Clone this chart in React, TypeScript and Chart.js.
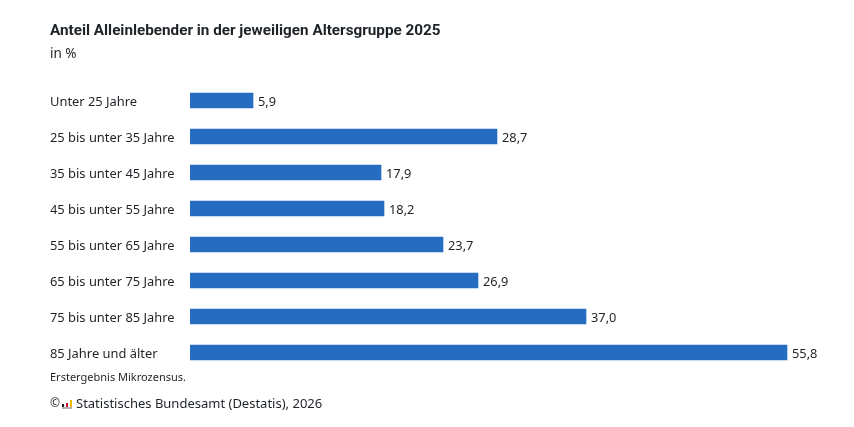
import React, { useEffect, useRef } from "react";
import { Chart, registerables } from "chart.js";

Chart.register(...registerables);

const categories = [
  "Unter 25 Jahre",
  "25 bis unter 35 Jahre",
  "35 bis unter 45 Jahre",
  "45 bis unter 55 Jahre",
  "55 bis unter 65 Jahre",
  "65 bis unter 75 Jahre",
  "75 bis unter 85 Jahre",
  "85 Jahre und älter",
];
const values = [5.9, 28.7, 17.9, 18.2, 23.7, 26.9, 37.0, 55.8];
const valueLabels = ["5,9", "28,7", "17,9", "18,2", "23,7", "26,9", "37,0", "55,8"];
const titleText = "Anteil Alleinlebender in der jeweiligen Altersgruppe 2025";
const subtitleText = "in %";
const noteText = "Erstergebnis Mikrozensus.";
const sourceText = "Statistisches Bundesamt (Destatis), 2026";

const FONT = '"Noto Sans", sans-serif';
const TITLE_FONT = 'Roboto, sans-serif';
const INK = "#1e2328";
const BAR = "#266dc2";

const valueLabelPlugin = {
  id: "valueLabels",
  afterDatasetsUpdate(chart: any) {
    chart.getDatasetMeta(0).data.forEach((bar: any) => {
      bar.x = Math.floor(bar.x);
    });
  },
  afterDatasetsDraw(chart: any) {
    const { ctx } = chart;
    const meta = chart.getDatasetMeta(0);
    ctx.save();
    ctx.font = `12.8px ${FONT}`;
    ctx.fillStyle = INK;
    ctx.textAlign = "left";
    ctx.textBaseline = "middle";
    meta.data.forEach((bar: any, i: number) => {
      ctx.fillText(valueLabels[i], bar.x + 5, bar.y + 2);
    });
    ctx.restore();
  },
};

export default function App() {
  const ref = useRef<HTMLCanvasElement>(null);
  useEffect(() => {
    document.body.style.margin = "0";
    document.body.style.background = "#fff";
    const chart = new Chart(ref.current!, {
      type: "bar",
      data: {
        labels: categories,
        datasets: [
          { data: values, backgroundColor: BAR, barThickness: 15, borderWidth: 0 },
        ],
      },
      plugins: [valueLabelPlugin],
      options: {
        indexAxis: "y",
        animation: false,
        responsive: false,
        devicePixelRatio: 1,
        layout: { padding: { left: 50, right: 21.4, top: 0, bottom: 56.5 } },
        plugins: {
          legend: { display: false },
          tooltip: { enabled: false },
          title: {
            display: true,
            text: titleText,
            align: "start",
            color: INK,
            font: { family: TITLE_FONT, size: 15.25, weight: "bold", lineHeight: "18px" },
            padding: { top: 22, bottom: 6 },
          },
          subtitle: {
            display: true,
            text: subtitleText,
            align: "start",
            color: INK,
            font: { family: FONT, size: 13.5, lineHeight: "16px" },
            padding: { top: 0, bottom: 20.5 },
          },
        },
        scales: {
          x: { display: false, min: 0, max: 60 },
          y: {
            afterFit(scale: any) {
              scale.width = 140;
            },
            grid: { display: false },
            border: { display: false },
            ticks: {
              crossAlign: "far",
              color: INK,
              padding: 0,
              labelOffset: 1.5,
              font: { family: FONT, size: 12.9 },
            },
          },
        },
      },
    } as any);
    return () => chart.destroy();
  }, []);

  return (
    <div style={{ position: "relative", width: 854, height: 427, fontFamily: FONT, color: INK }}>
      <canvas ref={ref} width={854} height={427} style={{ display: "block" }} />
      <div style={{ position: "absolute", left: 50, top: 369, fontSize: 11, lineHeight: "15px" }}>{noteText}</div>
      <div style={{ position: "absolute", left: 50, top: 394, fontSize: 13, lineHeight: "18px", whiteSpace: "nowrap" }}>
        <span style={{ position: "absolute", left: 0, top: 0, fontSize: 12 }}>©</span>
        <span style={{ position: "absolute", left: 12, top: 5, width: 10, height: 10, borderBottom: "2px solid #b4b4b4", boxSizing: "border-box" }}>
          <span style={{ position: "absolute", left: 0, bottom: 0, width: 2, height: 3, background: "#222" }} />
          <span style={{ position: "absolute", left: 4, bottom: 0, width: 2, height: 4, background: "#c8102e" }} />
          <span style={{ position: "absolute", left: 8, bottom: 0, width: 2, height: 7, background: "#f2b800" }} />
        </span>
        <span style={{ marginLeft: 26 }}>{sourceText}</span>
      </div>
    </div>
  );
}
